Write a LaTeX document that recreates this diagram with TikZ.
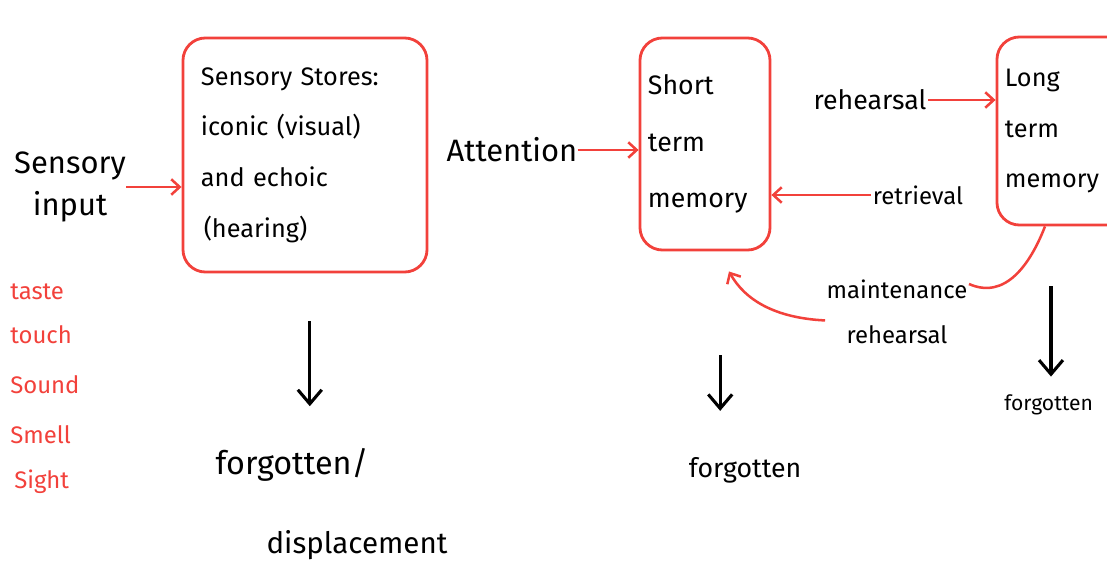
\documentclass[tikz,border=0pt]{standalone}
\usepackage{fontspec}
\setmainfont{Fira Sans}
\usetikzlibrary{positioning, arrows.meta}
\definecolor{pen}{HTML}{F2413B}

\begin{document}
\begin{tikzpicture}[
    x=0.025cm, y=-0.025cm,
    store/.style={rectangle, draw=pen, line width=2pt, rounded corners=16pt, align=left, font=\fontsize{18}{36}\selectfont, inner sep=0pt},
    word/.style={inner sep=0pt, align=center, font=\fontsize{22}{30}\selectfont},
    lbl/.style={inner sep=1pt, align=center, font=\fontsize{17}{32}\selectfont},
    sense/.style={inner sep=0pt, anchor=west, text=pen, font=\fontsize{17}{20}\selectfont},
    redarr/.style={-{Straight Barb[length=6pt, width=11pt]}, draw=pen, line width=1.8pt},
    downarr/.style={-{Straight Barb[length=10pt, width=17pt]}, draw=black, line width=2.2pt}
]
    \clip (0,0) rectangle (1107,585);

    % left side
    \node[word] (input) at (70,187) {Sensory\\input};
    \node[sense] (taste) at (10,292) {taste};
    \node[sense] (touch) at (10,335) {touch};
    \node[sense] (sound) at (10,385) {Sound};
    \node[sense] (smell) at (10,435) {Smell};
    \node[sense] (sight) at (14,482) {Sight};

    % stores
    \node[store, minimum width=6.1cm, minimum height=5.85cm, text width=5.2cm] (sensbox) at (305,155) {
        \rule{0pt}{10pt}Sensory Stores:\\
        iconic (visual)\\
        and echoic\\
        \hspace*{2pt}(hearing)
    };
    \node[store, minimum width=3.25cm, minimum height=5.3cm, text width=2.85cm, font=\fontsize{19}{40}\selectfont] (stm) at (705,144) {
        Short\\
        term\\
        memory
    };
    \node[store, minimum width=3.9cm, minimum height=4.7cm, text width=3.5cm, font=\fontsize{18}{36}\selectfont] (ltm) at (1075,131) {
        Long\\
        term\\
        memory
    };

    \node[word] (attn) at (512,150) {Attention};
    \node[lbl, font=\fontsize{19}{30}\selectfont] (rehe) at (870,100) {rehearsal};
    \node[lbl] (retr) at (918,195) {retrieval};
    \node[lbl] (maint) at (897,312) {maintenance\\rehearsal};

    \node[word, font=\fontsize{23}{30}\selectfont] (forgota) at (292,465) {forgotten/};
    \node[word, font=\fontsize{21}{30}\selectfont] (disp) at (357,545) {displacement};
    \node[word, font=\fontsize{19}{30}\selectfont] (forgotb) at (745,470) {forgotten};
    \node[word, font=\fontsize{15}{30}\selectfont, anchor=west] (forgotc) at (1004,405) {forgotten};

    % connectors
    \draw[redarr] (input.east) -- (sensbox.west |- input.east);
    \draw[redarr] (attn.east) -- (stm.west |- attn.east);
    \draw[redarr] (rehe.east) -- (ltm.west |- rehe.east);
    \draw[redarr] (retr.west) -- (stm.east |- retr.west);
    \draw[draw=pen, line width=1.8pt] ([xshift=-0.75cm]ltm.south) .. controls (1030,265) and (1005,300) .. ([yshift=-4pt]maint.north east);
    \draw[redarr] ([yshift=-6pt]maint.west) .. controls (775,318) and (745,300) .. ([xshift=0.6cm, yshift=-0.5cm]stm.south);

    \draw[downarr, shorten <=1.2cm, shorten >=1.05cm] ([xshift=0.12cm]sensbox.south) -- ([xshift=0.12cm]sensbox.south |- forgota.north);
    \draw[downarr, shorten <=2.6cm, shorten >=1.15cm] ([xshift=0.38cm]stm.south) -- ([xshift=0.38cm]stm.south |- forgotb.north);
    \draw[downarr, shorten <=1.5cm, shorten >=0.45cm] ([xshift=-0.6cm]ltm.south) -- ([xshift=-0.6cm]ltm.south |- forgotc.north);
\end{tikzpicture}
\end{document}
